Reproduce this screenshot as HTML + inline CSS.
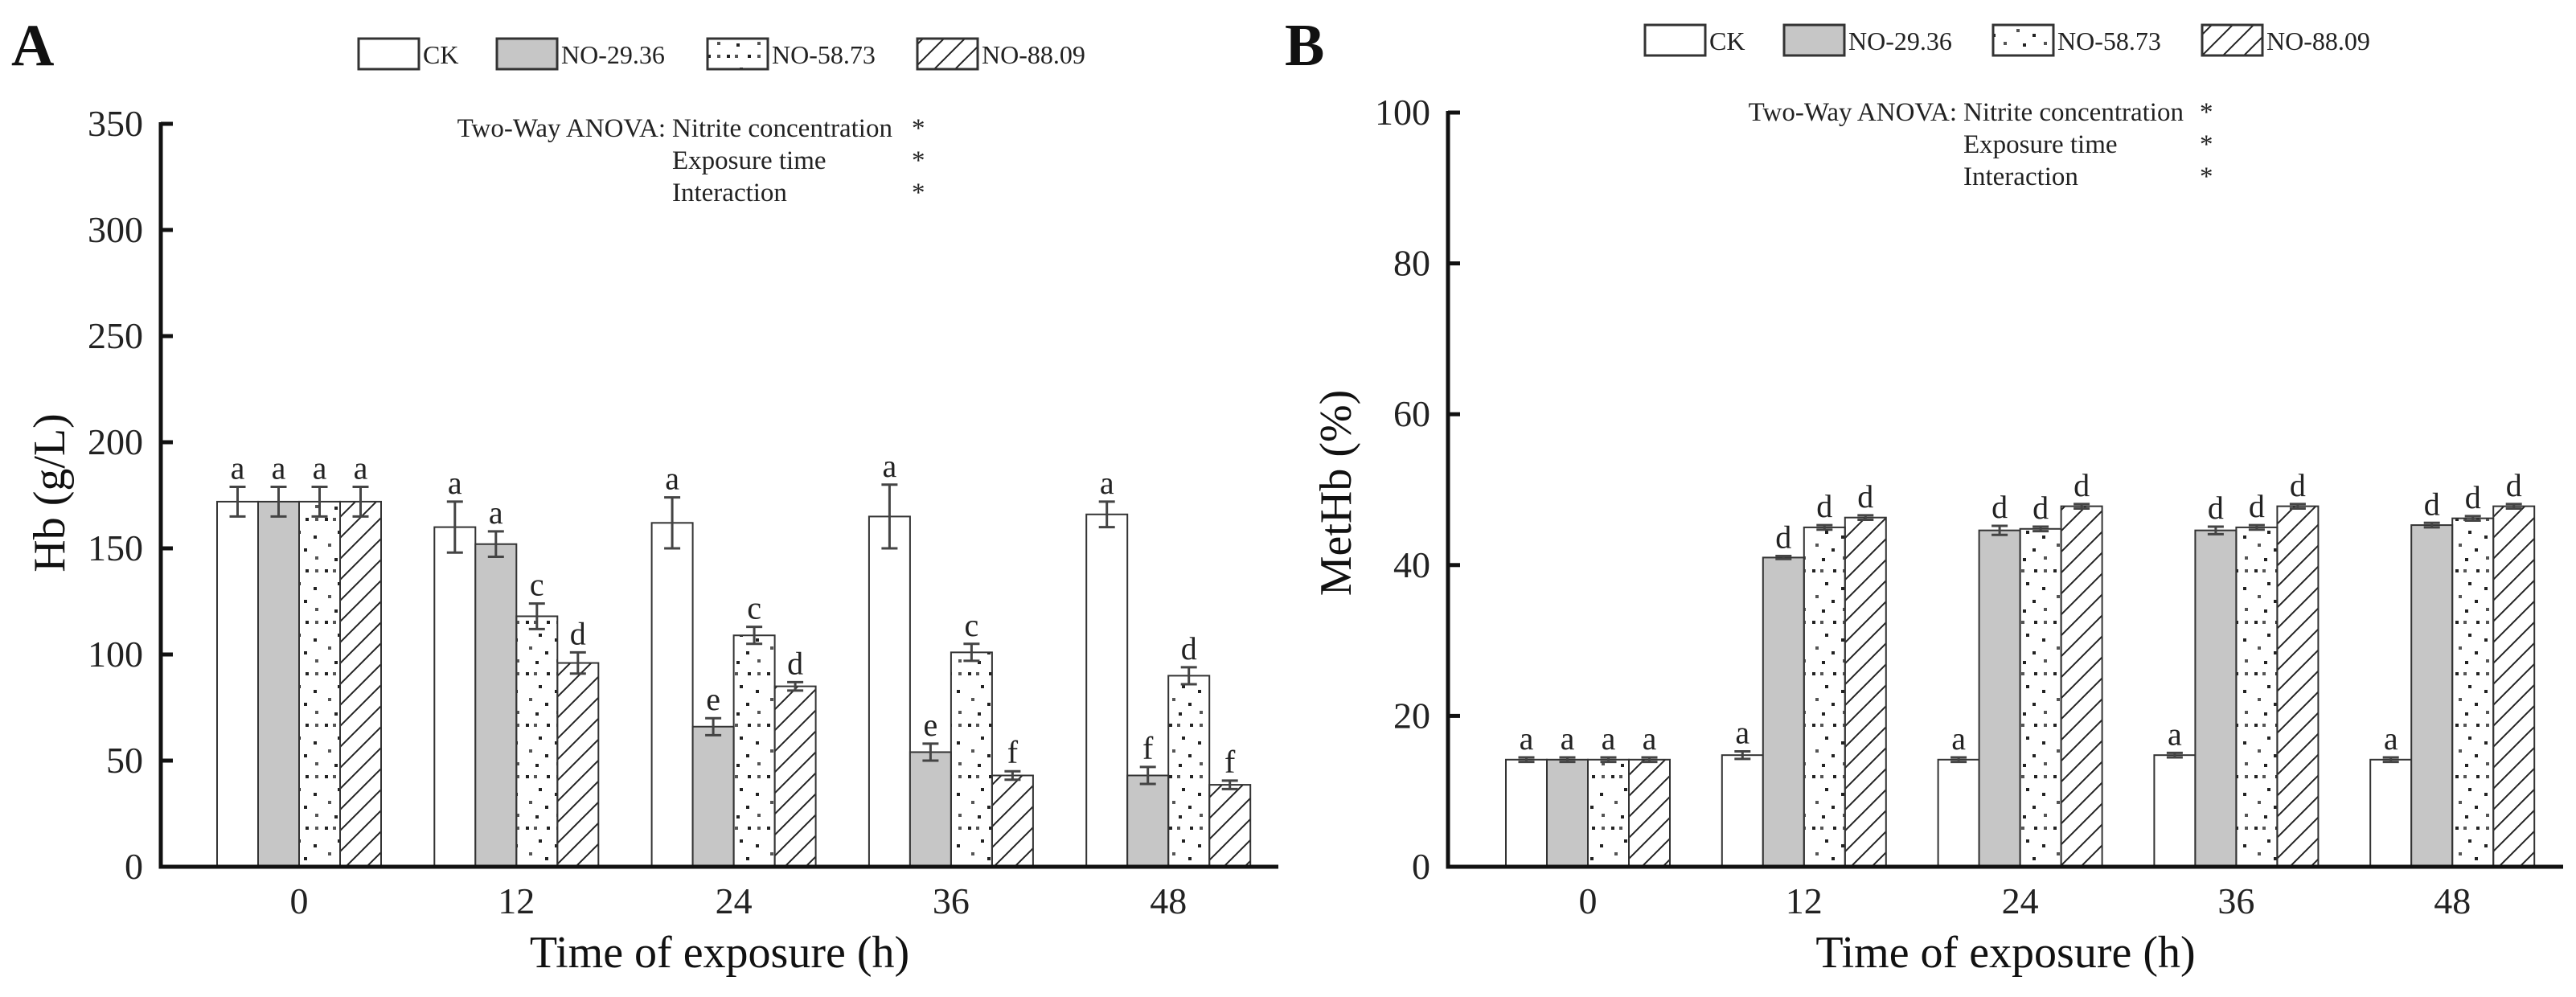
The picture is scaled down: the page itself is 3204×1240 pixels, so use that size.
<!DOCTYPE html>
<html><head><meta charset="utf-8">
<style>
html,body{margin:0;padding:0;background:#fff;}
svg{display:block;font-family:"Liberation Serif","Times New Roman",serif;}
</style></head>
<body>
<svg id="chart" width="3204" height="1240" viewBox="0 0 3204 1240" xmlns="http://www.w3.org/2000/svg">
<defs>
<pattern id="dots" patternUnits="userSpaceOnUse" width="50" height="64">
<rect x="4" y="4" width="4" height="4" fill="#222"/><rect x="14" y="4" width="4" height="4" fill="#555"/><rect x="30" y="4" width="4" height="4" fill="#222"/><rect x="42" y="4" width="4" height="4" fill="#555"/>
<rect x="20" y="20" width="4" height="4" fill="#222"/><rect x="40" y="26" width="4" height="4" fill="#222"/>
<rect x="8" y="36" width="4" height="4" fill="#555"/><rect x="28" y="42" width="4" height="4" fill="#222"/>
<rect x="16" y="54" width="4" height="4" fill="#222"/><rect x="42" y="52" width="4" height="4" fill="#555"/>
</pattern>
<pattern id="hatch" patternUnits="userSpaceOnUse" width="26" height="26">
<path d="M-2,28 L28,-2 M-15,15 L15,-15 M11,41 L41,11" stroke="#222" stroke-width="2"/>
</pattern>
</defs>
</svg>
<script>
const categories = ["0","12","24","36","48"];
const seriesNames = ["CK","NO-29.36","NO-58.73","NO-88.09"];
// Panel A: Hb (g/L)
const hbCK  = [172,160,162,165,166];
const hb29  = [172,152,66,54,43];
const hb58  = [172,118,109,101,90];
const hb88  = [172,96,85,43,38.6];
const hbErrCK = [7,12,12,15,6];
const hbErr29 = [7,6,4,4,4];
const hbErr58 = [7,6,4,4,4];
const hbErr88 = [7,5,2,2,2];
const hbLetters = [["a","a","a","a"],["a","a","c","d"],["a","e","c","d"],["a","e","c","f"],["a","f","d","f"]];
const hbTicks = [0,50,100,150,200,250,300,350];
// Panel B: MetHb (%)
const mhCK = [14.2,14.8,14.2,14.8,14.2];
const mh29 = [14.2,41,44.6,44.6,45.3];
const mh58 = [14.2,45,44.8,45,46.2];
const mh88 = [14.2,46.3,47.8,47.8,47.8];
const mhErrCK = [0.3,0.5,0.3,0.3,0.3];
const mhErr29 = [0.3,0.2,0.6,0.5,0.3];
const mhErr58 = [0.3,0.3,0.3,0.3,0.3];
const mhErr88 = [0.3,0.3,0.3,0.3,0.3];
const mhLetters = [["a","a","a","a"],["a","d","d","d"],["a","d","d","d"],["a","d","d","d"],["a","d","d","d"]];
const mhTicks = [0,20,40,60,80,100];

const svg = document.getElementById('chart');
const NS = 'http://www.w3.org/2000/svg';
function el(tag, attrs, parent){ const e=document.createElementNS(NS,tag); for(const k in attrs) e.setAttribute(k,attrs[k]); (parent||svg).appendChild(e); return e; }
const fills = ['#ffffff','#c6c6c6','url(#dots)','url(#hatch)'];

function panel(cfg){
  const g = el('g',{});
  
  
  const base = 1078, top = cfg.top, x0 = cfg.axisX, x1 = cfg.axisEnd;
  const y = v => base - (v/cfg.max)*(base-top);
  const cx = i => cfg.firstCenter + i*cfg.spacing;
  const bw = 51;
  const vals=[cfg.s0,cfg.s1,cfg.s2,cfg.s3], errs=[cfg.e0,cfg.e1,cfg.e2,cfg.e3];
  categories.forEach((c,i)=>{
    for(let s=0;s<4;s++){
      const bx = cx(i) - 2*bw + s*bw, v = vals[s][i], yy = y(v);
      const r = el('rect',{x:bx,y:yy,width:bw,height:base-yy,fill:fills[s],stroke:'#333','stroke-width':2},g);
      
      
      const ex = bx+bw/2, et=y(v+errs[s][i]), eb=y(v-errs[s][i]);
      const eb1 = el('path',{d:`M${ex},${et}V${eb}M${ex-10},${et}H${ex+10}M${ex-10},${eb}H${ex+10}`,stroke:'#444','stroke-width':3,fill:'none'},g);
      
      
      const t = el('text',{x:ex,y:et-10,'font-size':40,'text-anchor':'middle',fill:'#222'},g);
      
      
      t.textContent = cfg.letters[i][s];
    }
    const tl = el('text',{x:cx(i),y:1136,'font-size':46,'text-anchor':'middle',fill:'#222'},g);
    
    
    tl.textContent=c;
  });
  const ax = el('path',{d:`M${x0},${top-2}V${base}H${x1}`,stroke:'#111','stroke-width':5,fill:'none'},g);
  
  
  cfg.ticks.forEach(t=>{
    el('path',{d:`M${x0},${y(t)}H${x0+15}`,stroke:'#111','stroke-width':5},g);
    const tl = el('text',{x:x0-22,y:y(t)+15,'font-size':46,'text-anchor':'end',fill:'#222'},g);
    
    
    tl.textContent=t;
  });
  const yt = el('text',{x:0,y:0,'font-size':56,'text-anchor':'middle',fill:'#111',transform:`translate(${cfg.ytX},613) rotate(-90)`},g);
  
  
  yt.textContent=cfg.ytitle;
  const xt = el('text',{x:(x0+x1)/2,y:1203,'font-size':56,'text-anchor':'middle',fill:'#111'},g);
  
  
  xt.textContent='Time of exposure (h)';
  const pl = el('text',{x:cfg.labelX,y:81,'font-size':74,'font-weight':'bold',fill:'#111'},g);
  
  
  pl.textContent=cfg.label;
  cfg.legendX.forEach((lx,s)=>{
    const lg = el('g',{},g);
    
    
    el('rect',{x:lx,y:cfg.legendY,width:75,height:38,fill:fills[s],stroke:'#333','stroke-width':3},lg);
    const lt = el('text',{x:lx+80,y:cfg.legendY+31,'font-size':32,fill:'#222'},lg);
    lt.textContent=seriesNames[s];
  });
  const an = el('g',{},g);
  
  
  const lines=[['Two-Way ANOVA:','Nitrite concentration'],['','Exposure time'],['','Interaction']];
  lines.forEach((l,k)=>{
    const yy = cfg.anovaY + k*40;
    if(l[0]){ const t=el('text',{x:cfg.anovaCol,y:yy,'font-size':33,'text-anchor':'end',fill:'#222'},an); t.textContent=l[0]; }
    const t2=el('text',{x:cfg.anovaCol+8,y:yy,'font-size':33,fill:'#222'},an); t2.textContent=l[1];
    const st=el('text',{x:cfg.starX,y:yy,'font-size':33,fill:'#222'},an); st.textContent='*';
  });
}

panel({name:'panel-a-hb-chart',label:'A',labelX:14,axisX:200,axisEnd:1590,top:154,max:350,firstCenter:372,spacing:270.3,
  s0:hbCK,s1:hb29,s2:hb58,s3:hb88,e0:hbErrCK,e1:hbErr29,e2:hbErr58,e3:hbErr88,letters:hbLetters,ticks:hbTicks,
  ytitle:'Hb (g/L)',ytX:80,legendX:[446,618,880,1141],legendY:48,anovaY:170,anovaCol:828,starX:1134});
panel({name:'panel-b-methb-chart',label:'B',labelX:1598,axisX:1801,axisEnd:3188,top:140,max:100,firstCenter:1975,spacing:268.8,
  s0:mhCK,s1:mh29,s2:mh58,s3:mh88,e0:mhErrCK,e1:mhErr29,e2:mhErr58,e3:mhErr88,letters:mhLetters,ticks:mhTicks,
  ytitle:'MetHb (%)',ytX:1680,legendX:[2046,2219,2479,2739],legendY:31,anovaY:150,anovaCol:2434,starX:2736});
</script>
</body></html>
